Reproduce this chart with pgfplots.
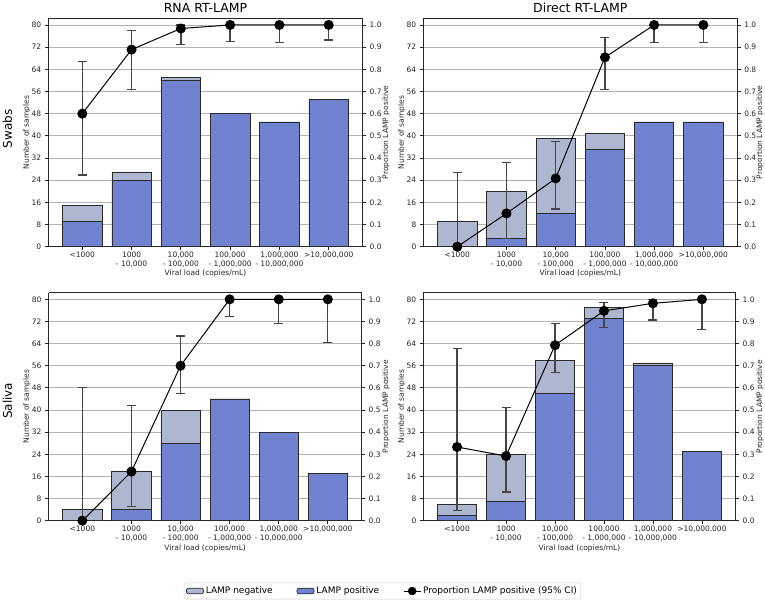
\documentclass[border=0pt]{standalone}
\usepackage{fontspec}
\setmainfont{DejaVu Sans}
\usepackage{pgfplots}
\usepackage{pgfplotstable}
\pgfplotsset{compat=1.18}
\definecolor{posc}{HTML}{7082D0}
\definecolor{negc}{HTML}{AEB6D0}
\definecolor{edgec}{HTML}{2A2A2A}
\definecolor{errc}{HTML}{454545}

\pgfplotstableread{
x tot pos p ep em
0 15 9  0.600 0.235 0.277
1 27 24 0.889 0.085 0.180
2 61 60 0.984 0.016 0.071
3 48 48 1.000 0.000 0.075
4 45 45 1.000 0.000 0.080
5 53 53 1.000 0.000 0.068
}\tabTL
\pgfplotstableread{
x tot pos p ep em
0 9  0  0.000 0.336 0.000
1 20 3  0.150 0.230 0.114
2 39 12 0.308 0.165 0.138
3 41 35 0.854 0.089 0.145
4 45 45 1.000 0.000 0.079
5 45 45 1.000 0.000 0.079
}\tabTR
\pgfplotstableread{
x tot pos p ep em
0 4  0  0.000 0.603 0.000
1 18 4  0.222 0.297 0.157
2 40 28 0.700 0.135 0.124
3 44 44 1.000 0.000 0.078
4 32 32 1.000 0.000 0.108
5 17 17 1.000 0.000 0.194
}\tabBL
\pgfplotstableread{
x tot pos p ep em
0 6  2  0.333 0.444 0.288
1 24 7  0.292 0.219 0.163
2 58 46 0.793 0.097 0.125
3 77 73 0.948 0.037 0.076
4 57 56 0.982 0.018 0.075
5 25 25 1.000 0.000 0.137
}\tabBR

\pgfplotsset{
  common/.style={scale only axis, xmin=-0.69, xmax=5.69,
    tick align=outside, major tick length=3.5pt,
    axis line style={draw=black!85, line width=0.8pt},
    every tick/.style={black!85, line width=0.8pt},
    tick label style={font=\fontsize{7.5}{9}\selectfont, text=black!85},
    /pgf/number format/assume math mode=true},
  leftax/.style={common, ymin=0, ymax=82.4, ytick={0,8,...,80},
    axis y line*=left, xtick pos=bottom,
    xtick={0,1,2,3,4,5},
    xticklabels={{<1000},{1000\\- 10,000},{10,000\\- 100,000},{100,000\\- 1,000,000},{1,000,000\\- 10,000,000},{>10,000,000}},
    xticklabel style={align=center, inner sep=1.5pt},
    ymajorgrids, grid style={black!30, line width=0.8pt}},
  rightax/.style={common, ymin=0, ymax=1.03, axis y line*=right, axis x line=none,
    ytick={0,0.1,0.2,0.3,0.4,0.5,0.6,0.7,0.8,0.9,1},
    yticklabel style={/pgf/number format/.cd, fixed, fixed zerofill, precision=1}},
  negbar/.style={ybar, bar width=0.8, bar shift=0pt, fill=negc, draw=edgec, line width=0.7pt},
  posbar/.style={ybar, bar width=0.8, bar shift=0pt, fill=posc, draw=edgec, line width=0.7pt},
  errplot/.style={only marks, mark=none, errc, line width=1.3pt,
    error bars/.cd, y dir=both, y explicit,
    error bar style={errc, line width=1.3pt},
    error mark options={rotate=90, mark size=4.5pt, errc, line width=1.3pt}},
  lineplot/.style={black, line width=1pt, mark=*, mark size=4.5pt, mark options={fill=black, draw=black}},
}

\newcommand{\panel}[5]{%
  \begin{axis}[leftax, at={(#1pt,#2pt)}, anchor=south west, width=#3pt, height=#4pt]
    \addplot[negbar] table[x=x, y=tot]{#5};
    \addplot[posbar] table[x=x, y=pos]{#5};
  \end{axis}
  \begin{axis}[rightax, at={(#1pt,#2pt)}, anchor=south west, width=#3pt, height=#4pt]
    \addplot[errplot] table[x=x, y=p, y error plus=ep, y error minus=em]{#5};
    \addplot[lineplot] table[x=x, y=p]{#5};
  \end{axis}
}

\begin{document}
\begin{tikzpicture}
\panel{48.3}{353.3}{314.4}{228.4}{\tabTL}
\panel{423.3}{353.3}{314}{228.4}{\tabTR}
\panel{48.5}{79.3}{313.2}{228}{\tabBL}
\panel{423.3}{79.3}{312.4}{228}{\tabBR}

% titles and labels
\tikzset{lab/.style={font=\fontsize{7.5}{9}\selectfont, text=black!85, inner sep=0pt}}
\node[anchor=base, font=\fontsize{12.5}{14}\selectfont, inner sep=0pt] at (205.5pt,587.5pt) {RNA RT-LAMP};
\node[anchor=base, font=\fontsize{12.5}{14}\selectfont, inner sep=0pt] at (580.3pt,587.5pt) {Direct RT-LAMP};
\node[rotate=90, font=\fontsize{12}{14}\selectfont, inner sep=0pt] at (7.5pt,471pt) {Swabs};
\node[rotate=90, font=\fontsize{12}{14}\selectfont, inner sep=0pt] at (7.5pt,199.2pt) {Saliva};
\node[lab, rotate=90] at (26.7pt,467.5pt) {Number of samples};
\node[lab, rotate=90] at (401.7pt,467.5pt) {Number of samples};
\node[lab, rotate=90] at (26.7pt,193.3pt) {Number of samples};
\node[lab, rotate=90] at (401.7pt,193.3pt) {Number of samples};
\node[lab, rotate=90] at (386pt,467.5pt) {Proportion LAMP positive};
\node[lab, rotate=90] at (760pt,467.5pt) {Proportion LAMP positive};
\node[lab, rotate=90] at (386pt,193.3pt) {Proportion LAMP positive};
\node[lab, rotate=90] at (760pt,193.3pt) {Proportion LAMP positive};
\node[lab, anchor=base] at (205.5pt,324pt) {Viral load (copies/mL)};
\node[lab, anchor=base] at (580.3pt,324pt) {Viral load (copies/mL)};
\node[lab, anchor=base] at (205.1pt,50pt) {Viral load (copies/mL)};
\node[lab, anchor=base] at (579.5pt,50pt) {Viral load (copies/mL)};

% legend
\begin{axis}[hide axis, scale only axis, width=1pt, height=1pt, at={(382.5pt,9pt)}, anchor=center,
  xmin=0, xmax=1, ymin=0, ymax=1,
  legend columns=3,
  legend style={at={(0.5,0.5)}, anchor=center, draw=black!20, rounded corners=2pt,
    font=\fontsize{9}{11}\selectfont, inner sep=2pt,
    /tikz/every even column/.append style={column sep=22pt}}]
  \addlegendimage{area legend, fill=negc, draw=edgec, line width=0.7pt}
  \addlegendimage{area legend, fill=posc, draw=edgec, line width=0.7pt}
  \addlegendimage{legend image code/.code={
     \draw[black, line width=1pt] (0cm,0cm) -- (0.6cm,0cm);
     \draw[errc, line width=1.3pt] (0.3cm,-4pt) -- (0.3cm,4pt);
     \fill[black] (0.3cm,0cm) circle (4pt);}}
  \legend{LAMP negative, LAMP positive, Proportion LAMP positive (95\% CI)}
\end{axis}

\pgfresetboundingbox
\useasboundingbox (0pt,0pt) rectangle (765pt,600pt);
\end{tikzpicture}
\end{document}
